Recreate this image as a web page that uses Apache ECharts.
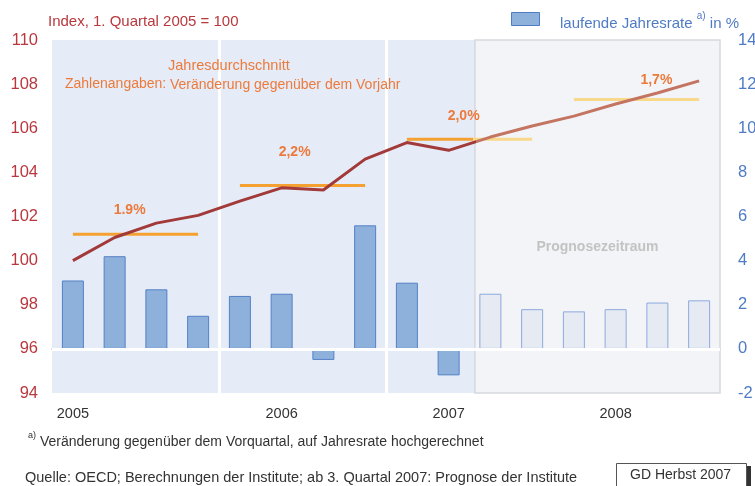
<!DOCTYPE html>
<html>
<head>
<meta charset="utf-8">
<script src="https://cdn.jsdelivr.net/npm/echarts@6/dist/echarts.min.js"></script>
<style>
  html, body { margin: 0; padding: 0; background: #fff; }
  #chart { width: 755px; height: 486px; }
</style>
</head>
<body>
<div id="chart"></div>
<script>
  // quarters 2005 Q1 .. 2008 Q4
  var quarters = [
    "2005 Q1", "2005 Q2", "2005 Q3", "2005 Q4",
    "2006 Q1", "2006 Q2", "2006 Q3", "2006 Q4",
    "2007 Q1", "2007 Q2", "2007 Q3", "2007 Q4",
    "2008 Q1", "2008 Q2", "2008 Q3", "2008 Q4"
  ];
  // laufende Jahresrate in % (right axis)
  var rate = [3.1, 4.2, 2.7, 1.5, 2.4, 2.5, -0.5, 5.6, 3.0, -1.2, 2.5, 1.8, 1.7, 1.8, 2.1, 2.2];
  // Index, 1. Quartal 2005 = 100 (left axis)
  var indexValues = [100.0, 101.05, 101.7, 102.05, 102.7, 103.3, 103.2, 104.6, 105.35, 105.0, 105.6, 106.1, 106.55, 107.1, 107.6, 108.15];
  // Jahresdurchschnitt (index level) and Veränderung gegenüber dem Vorjahr
  var yearAvg = [101.2, 103.4, 105.5, 107.3];
  var yearChange = ["1.9%", "2,2%", "2,0%", "1,7%"];
  var firstForecast = 10;       // ab 3. Quartal 2007
  var forecastStart = 10.13;    // forecast shading start (in quarter units)
  var yearLabelIdx = [0, 5, 9, 13];

  var font = "Liberation Sans, Arial, sans-serif",
    red = "#b8383e", blue = "#4f7bc4", orange = "#ec7a3c",
    avgColors = ["#f5a132", "#f5a132", null, "#f8d98c"];

  var chartDom = echarts.init(document.getElementById("chart"));

  function avgSeries(y){
    var data = quarters.map(function(q, i){ return Math.floor(i / 4) === y ? yearAvg[y] : null; }),
      labelIdx = [1, 1, 1, 2][y], offs = [[15, -24], [13, -33], [15, -23], [-1, -19]][y],
      color = avgColors[y];
    data[y * 4 + labelIdx] = {
      value: yearAvg[y],
      label: {
        show: true, position: "inside", offset: offs,
        formatter: yearChange[y],
        color: orange, fontSize: 14, fontWeight: "bold", fontFamily: font
      }
    };
    if(y === 2){
      // bis 2. Quartal beobachtet, danach Prognose
      color = new echarts.graphic.LinearGradient(0, 0, 1, 0, [
        {offset: 0, color: "#f5a132"}, {offset: 0.53, color: "#f5a132"},
        {offset: 0.53, color: "#f8d98c"}, {offset: 1, color: "#f8d98c"}
      ]);
    }
    return {
      type: "line", yAxisIndex: 0, data: data, z: 4,
      symbol: "circle", symbolSize: 1, showSymbol: true,
      itemStyle: {color: "rgba(0,0,0,0)"},
      lineStyle: {width: 3, color: color},
      silent: true, animation: false
    };
  }

  function getOptions(){
    var split = (forecastStart - 0.5) / 15;
    var option = {
      animation: false,
      textStyle: {fontFamily: font},
      grid: {
        left: 52, right: 35, top: 40, bottom: 93,
        containLabel: false, outerBoundsMode: "none",
        show: true, backgroundColor: "#e6ecf7", borderWidth: 0
      },
      xAxis: [
        {
          type: "category", data: quarters, boundaryGap: true,
          axisLine: {lineStyle: {color: "#9bb8e0", width: 1.5}},
          axisTick: {length: 4, lineStyle: {color: "#9bb8e0"}, interval: function(i){ return i % 4 === 0; }},
          axisLabel: {
            interval: function(i){ return yearLabelIdx.indexOf(i) > -1; },
            formatter: function(v){ return v.slice(0, 4); },
            color: "#333", fontSize: 14.5, margin: 13, fontFamily: font
          },
          splitLine: {show: true, interval: function(i){ return i === 4 || i === 8; }, lineStyle: {color: "#fff", width: 3}}
        },
        {type: "value", min: 0, max: 16, show: false}
      ],
      yAxis: [
        {
          type: "value", position: "left", min: 94, max: 110, interval: 2,
          axisLine: {show: false}, axisTick: {show: false}, splitLine: {show: false},
          axisLabel: {color: red, fontSize: 16.5, margin: 14, fontFamily: font}
        },
        {
          type: "value", position: "right", min: -2, max: 14, interval: 2,
          axisLine: {show: false}, axisTick: {show: false}, splitLine: {show: false},
          axisLabel: {color: blue, fontSize: 16.5, margin: 18, fontFamily: font}
        }
      ],
      graphic: [
        {type: "text", z: 100, left: 48, top: 14, style: {text: "Index, 1. Quartal 2005 = 100", fill: red, font: "15px " + font}},
        {type: "rect", z: 100, left: 511, top: 12, shape: {width: 28, height: 13}, style: {fill: "#8eb1dc", stroke: blue, lineWidth: 1}},
        {type: "text", z: 100, left: 560, top: 11, style: {
          text: "{t|laufende Jahresrate }{s|a)}{t| in %}",
          rich: {t: {fill: blue, fontSize: 15, fontFamily: font, verticalAlign: "bottom", lineHeight: 20},
                 s: {fill: blue, fontSize: 10, fontFamily: font, verticalAlign: "top", lineHeight: 12}}
        }},
        {type: "text", z: 100, left: 168, top: 58, style: {text: "Jahresdurchschnitt", fill: orange, font: "14.5px " + font}},
        {type: "text", z: 100, left: 65, top: 77, style: {text: "Zahlenangaben:", fill: orange, font: "14px " + font}},
        {type: "text", z: 100, left: 170, top: 78, style: {text: "Veränderung gegenüber dem Vorjahr", fill: orange, font: "14px " + font}},
        {type: "text", z: 100, left: 28, top: 431, style: {
          text: "{s|a)}{t| Veränderung gegenüber dem Vorquartal, auf Jahresrate hochgerechnet}",
          rich: {t: {fill: "#333", fontSize: 14, fontFamily: font, verticalAlign: "bottom", lineHeight: 18},
                 s: {fill: "#333", fontSize: 9, fontFamily: font, verticalAlign: "top", lineHeight: 10}}
        }},
        {type: "text", z: 100, left: 25, top: 470, style: {text: "Quelle: OECD; Berechnungen der Institute; ab 3. Quartal 2007: Prognose der Institute", fill: "#333", font: "14.5px " + font}},
        {type: "rect", z: 100, left: 745, top: 466, shape: {width: 6, height: 22}, style: {fill: "#333"}},
        {type: "rect", z: 101, left: 616, top: 463, shape: {width: 130, height: 26}, style: {fill: "#fff", stroke: "#555", lineWidth: 1}},
        {type: "text", z: 102, left: 630, top: 468, style: {text: "GD Herbst 2007", fill: "#333", font: "14px " + font}}
      ],
      series: [
        {
          // Prognosezeitraum shading
          type: "line", xAxisIndex: 1, yAxisIndex: 1, data: [], z: 1, silent: true,
          markArea: {
            silent: true,
            itemStyle: {color: "#f3f4f7", borderColor: "#d6d8dc", borderWidth: 1.5},
            label: {show: true, position: "inside", offset: [0, 31], formatter: "Prognosezeitraum",
              color: "#c3c3c3", fontSize: 14, fontWeight: "bold", fontFamily: font},
            data: [[{coord: [forecastStart, 14]}, {coord: [16, -2]}]]
          }
        },
        {
          type: "bar", yAxisIndex: 1, barWidth: 22, z: 3,
          data: rate.map(function(v, i){
            var fc = i >= firstForecast;
            return {value: v, itemStyle: {
              color: fc ? "#e6eaf3" : "#8eb1dc",
              borderColor: fc ? "#8ea9de" : "#5380c6", borderWidth: 1
            }};
          }),
          markLine: {
            silent: true, symbol: "none", label: {show: false},
            lineStyle: {color: "#fff", width: 3, type: "solid"},
            data: [{yAxis: 0}]
          }
        },
        {
          type: "line", yAxisIndex: 0, data: indexValues, z: 5,
          showSymbol: false, smooth: false,
          lineStyle: {width: 3, color: new echarts.graphic.LinearGradient(0, 0, 1, 0, [
            {offset: 0, color: "#a23a3a"}, {offset: split, color: "#a23a3a"},
            {offset: split, color: "#c47562"}, {offset: 1, color: "#c47562"}
          ])}
        },
        avgSeries(0), avgSeries(1), avgSeries(2), avgSeries(3)
      ]
    };
    return option;
  }

  chartDom.setOption(getOptions());
</script>
</body>
</html>
